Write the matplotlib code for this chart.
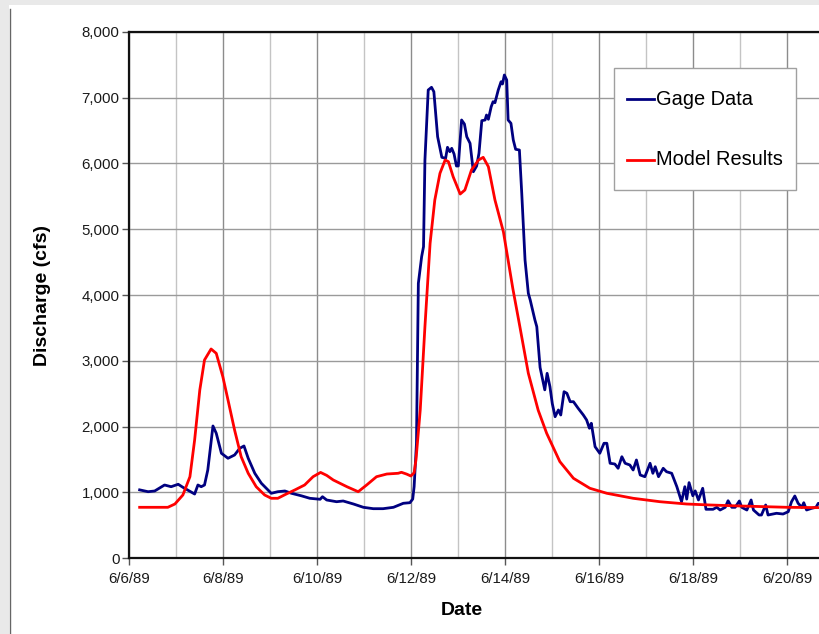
import matplotlib
matplotlib.use("Agg")
import matplotlib.pyplot as plt
import matplotlib.dates as mdates
from matplotlib.patches import Rectangle
from matplotlib.lines import Line2D
from matplotlib.ticker import FuncFormatter, MultipleLocator
import numpy as np
import pandas as pd

plt.rcParams['font.family'] = ['Liberation Sans', 'DejaVu Sans']

start = pd.Timestamp('1989-06-06')

# gage record, days after 6/6/89 00:00 and discharge in cfs
gage_day = [0.22, 0.40, 0.54, 0.75, 0.89, 1.04, 1.14, 1.39, 1.46, 1.53, 1.60, 1.67, 1.78, 1.85,
            1.96, 2.10, 2.24, 2.35, 2.44, 2.53, 2.67, 2.81, 3.02, 3.16, 3.31, 3.45, 3.66, 3.84,
            4.06, 4.11, 4.20, 4.41, 4.55, 4.77, 4.98, 5.19, 5.40, 5.62, 5.83, 5.97, 6.03, 6.06,
            6.11, 6.13, 6.15, 6.22, 6.26, 6.29, 6.36, 6.43, 6.48, 6.56, 6.65, 6.73, 6.77, 6.82,
            6.86, 6.91, 6.96, 7.00, 7.07, 7.13, 7.18, 7.25, 7.32, 7.39, 7.44, 7.50, 7.57, 7.60,
            7.64, 7.70, 7.74, 7.78, 7.85, 7.91, 7.94, 7.98, 8.03, 8.06, 8.12, 8.17, 8.22, 8.30,
            8.35, 8.42, 8.49, 8.53, 8.63, 8.67, 8.74, 8.80, 8.84, 8.89, 8.95, 9.00, 9.06, 9.13,
            9.18, 9.25, 9.31, 9.38, 9.45, 9.55, 9.66, 9.73, 9.79, 9.83, 9.91, 10.01, 10.10, 10.16,
            10.23, 10.33, 10.40, 10.48, 10.55, 10.65, 10.72, 10.79, 10.87, 10.97, 11.08, 11.14,
            11.19, 11.26, 11.36, 11.43, 11.54, 11.65, 11.75, 11.82, 11.86, 11.91, 11.99, 12.04,
            12.11, 12.20, 12.27, 12.42, 12.50, 12.57, 12.68, 12.74, 12.82, 12.89, 12.98, 13.03,
            13.14, 13.23, 13.28, 13.40, 13.45, 13.54, 13.59, 13.77, 13.91, 14.02, 14.09, 14.16,
            14.23, 14.31, 14.35, 14.41, 14.52, 14.61, 14.66, 14.72]
gage_cfs = [1040, 1012, 1023, 1114, 1088, 1125, 1079, 977, 1114, 1088, 1114, 1342, 2011, 1900,
            1596, 1520, 1570, 1672, 1707, 1520, 1292, 1140, 988, 1012, 1023, 988, 950, 912,
            897, 936, 886, 860, 871, 825, 775, 754, 754, 775, 836, 845, 900, 1088,
            1748, 3000, 4179, 4584, 4736, 6053, 7117, 7158, 7091, 6407, 6094, 6079, 6246, 6179,
            6231, 6144, 5962, 5962, 6661, 6600, 6407, 6307, 5875, 5962, 6155, 6651, 6661, 6737,
            6672, 6863, 6939, 6924, 7117, 7243, 7208, 7345, 7269, 6661, 6611, 6357, 6216, 6205,
            5547, 4533, 4027, 3926, 3622, 3520, 2900, 2700, 2560, 2811, 2608, 2350, 2152, 2254,
            2178, 2532, 2508, 2380, 2380, 2280, 2178, 2102, 1976, 2052, 1696, 1596, 1748, 1748,
            1444, 1433, 1368, 1544, 1444, 1418, 1342, 1494, 1266, 1240, 1444, 1292,
            1392, 1240, 1368, 1316, 1292, 1088, 860, 1088, 900, 1150, 950, 1025,
            886, 1064, 745, 745, 775, 734, 775, 875, 775, 775, 871, 775,
            734, 886, 734, 658, 658, 810, 658, 684, 673, 708, 860, 947,
            836, 775, 845, 734, 760, 775, 836, 820]

# model output
model_day = [0.22, 0.82, 0.97, 1.14, 1.29, 1.39, 1.50, 1.60, 1.74, 1.85, 1.99, 2.10, 2.24, 2.38,
             2.53, 2.70, 2.88, 3.02, 3.16, 3.34, 3.52, 3.73, 3.91, 4.07, 4.20, 4.34, 4.63, 4.87,
             5.05, 5.26, 5.48, 5.72, 5.79, 5.90, 5.99, 6.06, 6.10, 6.19, 6.29, 6.40, 6.50, 6.61,
             6.72, 6.79, 6.89, 7.04, 7.14, 7.28, 7.43, 7.53, 7.64, 7.78, 7.96, 8.16, 8.31, 8.49,
             8.70, 8.88, 9.16, 9.45, 9.80, 10.16, 10.72, 11.29, 11.86, 12.36, 13.00, 14.00, 14.72]
model_cfs = [775, 775, 825, 962, 1240, 1798, 2558, 3014, 3181, 3115, 2760, 2406, 1950, 1544,
             1292, 1088, 962, 912, 912, 977, 1038, 1114, 1240, 1305, 1260, 1190, 1088, 1012,
             1114, 1240, 1281, 1292, 1307, 1280, 1251, 1300, 1500, 2254, 3520, 4787, 5445, 5851,
             6053, 6028, 5800, 5536, 5597, 5901, 6053, 6094, 5951, 5445, 4960, 4100, 3520, 2812,
             2250, 1900, 1470, 1216, 1064, 988, 912, 860, 825, 810, 795, 775, 770]

series_labels = ['Gage Data', 'Model Results']
series_colors = ['#000080', '#ff0000']

gage_t = start + pd.to_timedelta(gage_day, unit='D')
model_t = start + pd.to_timedelta(model_day, unit='D')

W, H = 819, 634
fig = plt.figure(figsize=(W / 100, H / 100), dpi=100, facecolor='white')

# slide backdrop: grey strips along top and left edge
fig.patches.append(Rectangle((0, 1 - 5 / H), 1, 5 / H, transform=fig.transFigure,
                             facecolor='#e9e9e9', edgecolor='none', zorder=0))
fig.patches.append(Rectangle((0, 0), 9 / W, 1, transform=fig.transFigure,
                             facecolor='#e9e9e9', edgecolor='none', zorder=0))
fig.lines.append(Line2D([9.5 / W, 9.5 / W], [0, 1 - 9 / H], transform=fig.transFigure,
                        color='#666666', lw=1.0))

x0, y0 = 129.3, 558.3
ax = fig.add_axes([x0 / W, 1 - y0 / H, 15 * 47 / W, 526.4 / H])

ax.plot(gage_t, gage_cfs, color=series_colors[0], lw=2.0, label=series_labels[0], zorder=3)
ax.plot(model_t, model_cfs, color=series_colors[1], lw=2.0, label=series_labels[1], zorder=4)

ax.set_xlim(start, start + pd.Timedelta(days=15))
ax.set_ylim(0, 8000)

# labels on the even days, a grid line on every day
ax.xaxis.set_major_locator(mdates.DayLocator(bymonthday=range(6, 31, 2)))
ax.xaxis.set_minor_locator(mdates.DayLocator())
ax.xaxis.set_major_formatter(FuncFormatter(
    lambda v, pos: (lambda d: f"{d.month}/{d.day}/{d:%y}")(mdates.num2date(v))))
ax.yaxis.set_major_locator(MultipleLocator(1000))
ax.yaxis.set_major_formatter(FuncFormatter(lambda v, pos: f"{int(v):,}"))

ax.set_axisbelow(True)
ax.grid(which='major', axis='x', color='#8c8c8c', lw=1.0)
ax.grid(which='minor', axis='x', color='#c4c4c4', lw=1.0)
ax.grid(which='major', axis='y', color='#9a9a9a', lw=1.0)

ax.tick_params(axis='both', which='major', direction='out', length=5, width=1,
               color='#555555', labelsize=10.8, labelcolor='#1a1a1a')
ax.tick_params(axis='x', which='major', pad=5)
ax.tick_params(axis='y', which='major', pad=2)
ax.tick_params(axis='x', which='minor', length=0)

for side in ['left', 'bottom', 'top']:
    ax.spines[side].set_linewidth(1.6)
    ax.spines[side].set_color('#111111')
ax.spines['right'].set_visible(False)

ax.set_ylabel('Discharge (cfs)', fontsize=14, fontweight='bold')
ax.yaxis.set_label_coords(-0.111, 0.5)
ax.set_xlabel('Date', fontsize=14, fontweight='bold')
ax.xaxis.set_label_coords(0.472, -0.083)

leg = ax.legend(loc='upper left', bbox_to_anchor=(614 / W, 1 - 68 / H),
                bbox_transform=fig.transFigure, borderaxespad=0, fontsize=14.4,
                frameon=True, fancybox=False, framealpha=1, edgecolor='#a0a0a0',
                handlelength=1.33, handletextpad=0.12, handleheight=2.3,
                labelspacing=1.3, borderpad=0.65)
leg.get_frame().set_linewidth(1.0)
# drop the handle lines so they sit level with the label text
for h in leg.legend_handles:
    h.set_ydata(np.asarray(h.get_ydata()) - 4.3)

fig.savefig('out.png', dpi=100)
